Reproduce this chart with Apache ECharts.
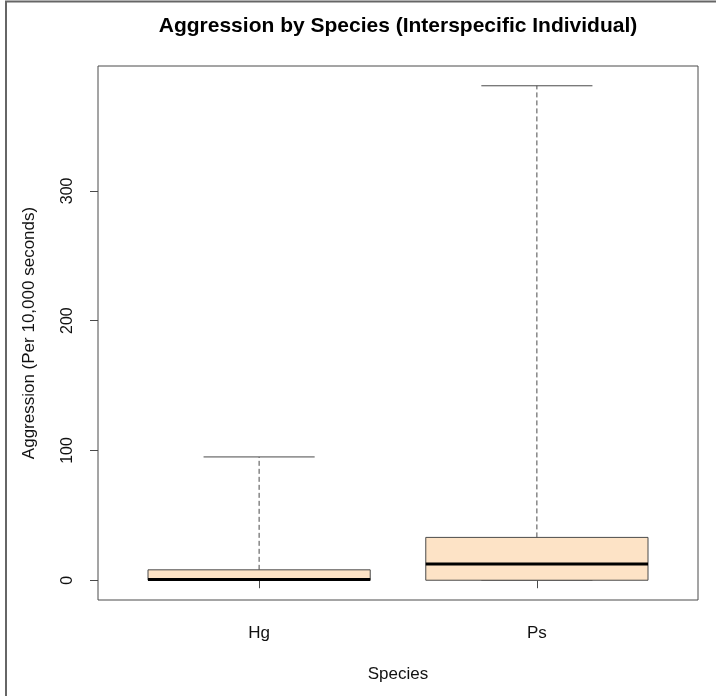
<!DOCTYPE html>
<html>
<head>
<meta charset="utf-8">
<script src="https://cdn.jsdelivr.net/npm/echarts@6/dist/echarts.min.js"></script>
<style>
  html, body { margin: 0; padding: 0; background: #fff; }
  #chart { width: 716px; height: 696px; }
</style>
</head>
<body>
<div id="chart"></div>
<script>
// boxplot summary: [min, q1, median, q3, max]
var species = ['Hg', 'Ps'];
var hgStats = [0, 0, 0.5, 8, 95];
var psStats = [0, 0, 12.5, 33, 381];
var yTicks = [0, 100, 200, 300];

var boxFill = '#fde3c6';
var lineColor = '#4a4a4a';
var font = 'Liberation Sans, Arial, Helvetica, sans-serif';

var boxData = [hgStats, psStats].map(function (s, i) {
    return [i + 1].concat(s);
});

var renderBox = function (params, api) {
    var x = api.value(0);
    var lo = api.coord([x, api.value(1)]);
    var q1 = api.coord([x, api.value(2)]);
    var med = api.coord([x, api.value(3)]);
    var q3 = api.coord([x, api.value(4)]);
    var hi = api.coord([x, api.value(5)]);
    var boxW = api.size([0.8, 0])[0];
    var capW = boxW / 2;
    var cx = med[0];
    var solid = { stroke: lineColor, lineWidth: 1 };
    var dashed = { stroke: lineColor, lineWidth: 1, lineDash: [5, 3] };
    return {
        type: 'group',
        children: [
            { type: 'line', shape: { x1: cx, y1: q3[1], x2: cx, y2: hi[1] }, style: dashed },
            { type: 'line', shape: { x1: cx, y1: q1[1], x2: cx, y2: lo[1] }, style: dashed },
            { type: 'line', shape: { x1: cx - capW / 2, y1: hi[1], x2: cx + capW / 2, y2: hi[1] }, style: solid },
            { type: 'line', shape: { x1: cx - capW / 2, y1: lo[1], x2: cx + capW / 2, y2: lo[1] }, style: solid },
            {
                type: 'rect',
                shape: { x: cx - boxW / 2, y: q3[1], width: boxW, height: q1[1] - q3[1] },
                style: { fill: boxFill, stroke: lineColor, lineWidth: 1 }
            },
            { type: 'line', shape: { x1: cx - boxW / 2, y1: med[1], x2: cx + boxW / 2, y2: med[1] }, style: { stroke: '#000', lineWidth: 3 } }
        ]
    };
};

var myChart = echarts.init(document.getElementById('chart'), null, { renderer: 'canvas' });
myChart.setOption({
    animation: false,
    backgroundColor: '#fff',
    textStyle: { fontFamily: font },
    title: {
        text: 'Aggression by Species (Interspecific Individual)',
        left: 398,
        textAlign: 'center',
        top: 16,
        padding: 0,
        textStyle: { fontFamily: font, fontSize: 21, fontWeight: 'bold', color: '#000' }
    },
    graphic: [{
        type: 'polyline',
        shape: { points: [[6, 696], [6, 1.5], [716, 1.5]] },
        style: { stroke: '#666', lineWidth: 2, fill: null }
    }],
    grid: {
        left: 98, right: 18, top: 66, bottom: 96,
        show: true, borderColor: lineColor, borderWidth: 1, backgroundColor: 'transparent'
    },
    xAxis: {
        type: 'value',
        min: 0.42,
        max: 2.58,
        name: 'Species',
        nameLocation: 'middle',
        nameGap: 66,
        nameTextStyle: { fontFamily: font, fontSize: 17, color: '#111' },
        axisLine: { show: false },
        splitLine: { show: false },
        axisTick: { show: true, length: 8, customValues: [1, 2], lineStyle: { color: lineColor } },
        axisLabel: {
            customValues: [1, 2],
            margin: 25,
            fontFamily: font, fontSize: 17, color: '#111',
            formatter: function (v) { return species[Math.round(v) - 1]; }
        }
    },
    yAxis: {
        type: 'value',
        min: -15.24,
        max: 396.24,
        name: 'Aggression (Per 10,000 seconds)',
        nameLocation: 'middle',
        nameGap: 60,
        nameTextStyle: { fontFamily: font, fontSize: 17, color: '#111' },
        axisLine: { show: false },
        splitLine: { show: false },
        axisTick: { show: true, length: 8, customValues: yTicks, lineStyle: { color: lineColor } },
        axisLabel: {
            customValues: yTicks,
            rotate: 90,
            margin: 22,
            fontFamily: font, fontSize: 16, color: '#111'
        }
    },
    series: [{
        type: 'custom',
        renderItem: renderBox,
        encode: { x: 0, y: [1, 2, 3, 4, 5] },
        data: boxData
    }]
});
</script>
</body>
</html>
